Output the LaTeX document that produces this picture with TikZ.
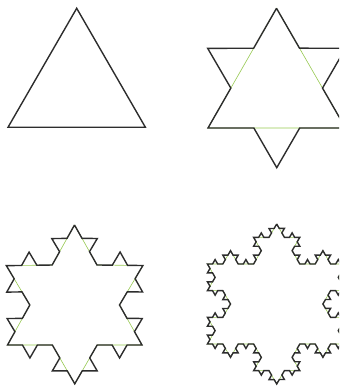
\documentclass[tikz,border=0pt]{standalone}
\usetikzlibrary{decorations.fractals}
\definecolor{ghost}{RGB}{150,200,80}
\definecolor{ink}{RGB}{45,45,45}
\begin{document}
\begin{tikzpicture}[x=1pt,y=-1pt,
  koch/.style={draw=ink, line width=1.4pt, line join=miter, miter limit=10, decoration=Koch snowflake},
  prev/.style={draw=ghost, line width=0.6pt, decoration=Koch snowflake}]
\useasboundingbox (0,0) rectangle (339,387);
\clip (0,0) rectangle (339,387);
% order 0
\coordinate (a1) at (76.7,8.3);
\coordinate (b1) at (145.4,127.3);
\coordinate (c1) at (8,127.3);
\draw[koch] (a1) -- (b1) -- (c1) -- cycle;
% order 1
\coordinate (a2) at (276.5,8.3);
\coordinate (b2) at (345.5,128);
\coordinate (c2) at (208,128);
\path[prev] (a2) -- (b2) -- (c2) -- cycle;
\path[koch] decorate{ (a2) -- (b2) -- (c2) -- (a2) };
% order 2
\coordinate (a3) at (74.5,225);
\coordinate (b3) at (142,345);
\coordinate (c3) at (7.5,345);
\path[prev] decorate{ (a3) -- (b3) -- (c3) -- (a3) };
\path[koch] decorate{ decorate{ (a3) -- (b3) -- (c3) -- (a3) } };
% order 3
\coordinate (a4) at (276.7,224);
\coordinate (b4) at (346,344);
\coordinate (c4) at (207.4,344);
\path[prev] decorate{ decorate{ (a4) -- (b4) -- (c4) -- (a4) } };
\path[koch] decorate{ decorate{ decorate{ (a4) -- (b4) -- (c4) -- (a4) } } };
\end{tikzpicture}
\end{document}
